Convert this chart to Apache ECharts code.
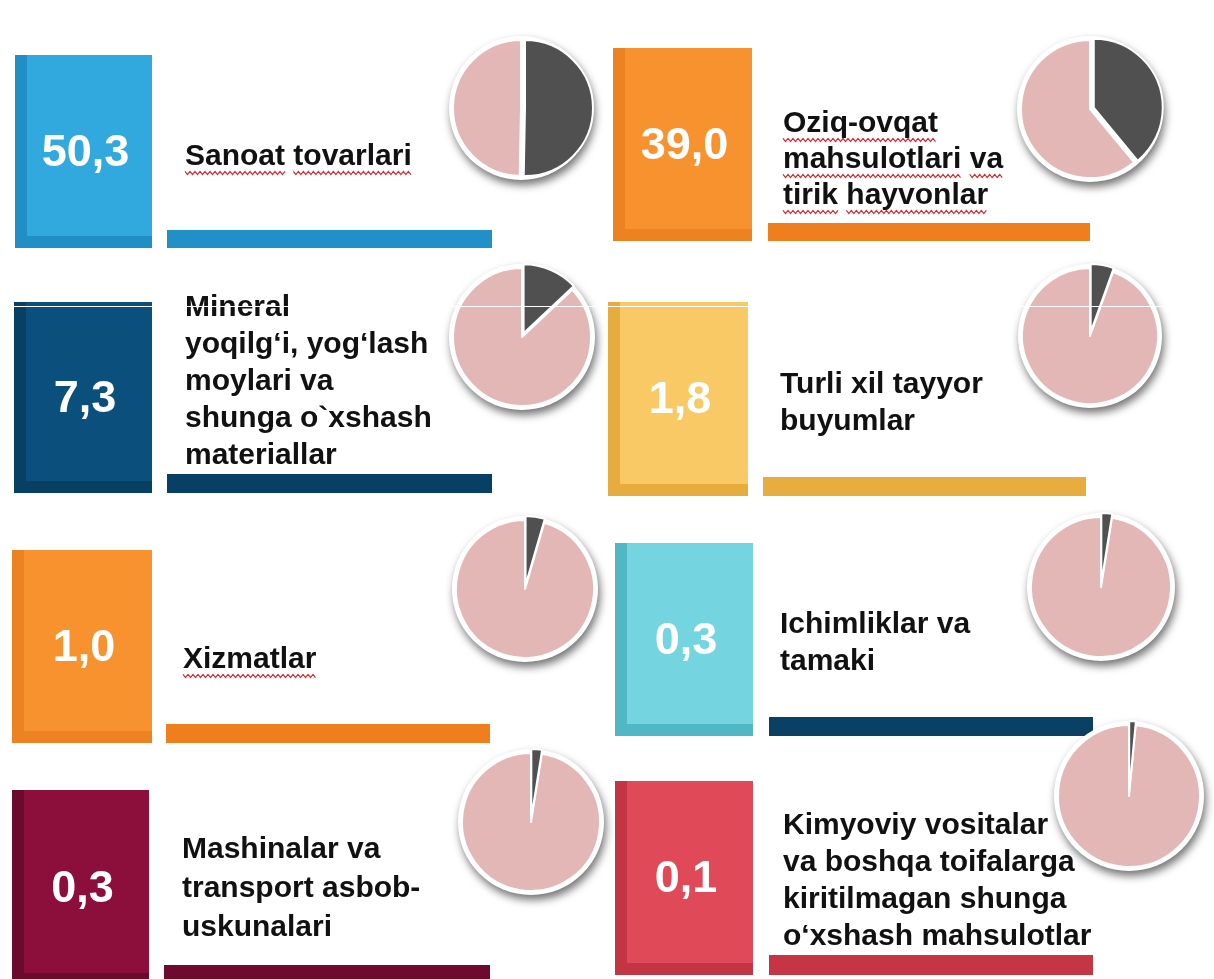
<!DOCTYPE html>
<html>
<head>
<meta charset="utf-8">
<script src="https://cdn.jsdelivr.net/npm/echarts@6.0.0/dist/echarts.min.js"></script>
<style>
  html, body { margin: 0; padding: 0; background: #fff; }
  #chart { width: 1214px; height: 979px; }
</style>
</head>
<body>
<div id="chart"></div>
<script>
// categories (export structure), share in percent
const categories = [
  'Sanoat tovarlari',
  'Oziq-ovqat\nmahsulotlari va\ntirik hayvonlar',
  'Mineral\nyoqilg‘i, yog‘lash\nmoylari va\nshunga o`xshash\nmateriallar',
  'Turli xil tayyor\nbuyumlar',
  'Xizmatlar',
  'Ichimliklar va\ntamaki',
  'Mashinalar va\ntransport asbob-\nuskunalari',
  'Kimyoviy vositalar\nva boshqa toifalarga\nkiritilmagan shunga\no‘xshash mahsulotlar'
]
const values = [50.3, 39.0, 7.3, 1.8, 1.0, 0.3, 0.3, 0.1]
// dark slice of each small pie, as it is drawn in the picture
const pieShare = [50.3, 39.0, 13, 5.5, 4.5, 2.5, 2.5, 1.5]

// panel colours: box face, box edge, underline bar
const boxColors = ['#31a9de', '#f7922e', '#0b4f7c', '#f8c964', '#f7922e', '#74d4e0', '#8b0f3a', '#e04a58']
const edgeColors = ['#1f8fc6', '#ec8220', '#083f65', '#e6ad3e', '#ec8222', '#50b8c5', '#6c0a2d', '#c33444']
const barColors = ['#2290c8', '#ee7f1c', '#083f64', '#e7ae3f', '#ee7f1c', '#0a4066', '#6e0a2e', '#c53544']

// layout (px): box [x, y, w, h], bar [x, y, w, h], text [x, centerY, lineHeight], pie [cx, cy, r]
const boxes = [
  [15, 55, 137, 193], [613, 48, 139, 193],
  [14, 302, 138, 191], [608, 302, 140, 194],
  [12, 550, 140, 193], [615, 543, 138, 193],
  [12, 790, 137, 195], [615, 781, 138, 194]
]
const bars = [
  [167, 230, 325, 18], [768, 223, 322, 18],
  [167, 474, 325, 19], [763, 477, 323, 19],
  [166, 724, 324, 19], [769, 717, 324, 19],
  [164, 965, 326, 20], [769, 955, 324, 20]
]
const texts = [
  [185, 157, 36], [783, 160, 36],
  [185, 382, 37], [780, 403, 37],
  [183, 660, 37], [780, 643, 37],
  [182, 889, 39], [783, 881, 37]
]
const pies = [
  [521, 108, 68], [1090, 109, 69],
  [522, 337, 69], [1090, 336, 68],
  [525, 589, 69], [1101, 587, 70],
  [531, 822, 69], [1129, 796, 71]
]
// panels whose label carries the red spell-check squiggle
const spellMarked = [0, 1, 4]

const fmt = v => v.toFixed(1).replace('.', ',')
const labelFont = 'bold 30px "Liberation Sans", Arial, sans-serif'
const measure = document.createElement('canvas').getContext('2d')
measure.font = labelFont

let graphic = []
let series = []

function squiggle (x0, x1, y) {
  let pts = []
  let up = true
  for (let x = x0; x <= x1; x += 2.5) {
    pts.push([x, up ? y - 1.6 : y + 1.6])
    up = !up
  }
  graphic.push({
    type: 'polyline', shape: { points: pts },
    style: { stroke: '#d9262f', lineWidth: 1.2, fill: null }, silent: true
  })
}

categories.forEach((name, i) => {
  const [bx, by, bw, bh] = boxes[i]
  const edge = 12
  graphic.push({
    type: 'rect', shape: { x: bx, y: by, width: bw, height: bh },
    style: { fill: edgeColors[i] }, silent: true
  })
  graphic.push({
    type: 'rect', shape: { x: bx + edge, y: by, width: bw - edge, height: bh - edge },
    style: { fill: boxColors[i] }, silent: true
  })
  graphic.push({
    type: 'text', x: bx + bw / 2 + 2, y: by + bh / 2 + 2,
    style: {
      text: fmt(values[i]), fill: '#fff', font: 'bold 45px "Liberation Sans", Arial, sans-serif',
      textAlign: 'center', textVerticalAlign: 'middle'
    },
    silent: true
  })
  const [rx, ry, rw, rh] = bars[i]
  graphic.push({
    type: 'rect', shape: { x: rx, y: ry, width: rw, height: rh },
    style: { fill: barColors[i] }, silent: true
  })
  const [tx, ty, lh] = texts[i]
  graphic.push({
    type: 'text', x: tx, y: ty,
    style: {
      text: name, fill: '#111', font: labelFont,
      lineHeight: lh, textAlign: 'left', textVerticalAlign: 'middle'
    },
    silent: true
  })
  if (spellMarked.indexOf(i) >= 0) {
    const lines = name.split('\n')
    const top = ty - lines.length * lh / 2
    lines.forEach((line, k) => {
      const y = top + k * lh + lh / 2 + 16
      let x = tx
      line.split(' ').forEach(word => {
        const w = measure.measureText(word).width
        squiggle(x, x + w, y)
        x += w + measure.measureText(' ').width
      })
    })
  }
  const [cx, cy, r] = pies[i]
  // white disc with drop shadow behind each pie
  graphic.push({
    type: 'circle', shape: { cx: cx, cy: cy, r: r + 4 },
    style: {
      fill: '#fff', shadowBlur: 9, shadowOffsetX: 2, shadowOffsetY: 5,
      shadowColor: 'rgba(0,0,0,0.55)'
    },
    silent: true
  })
  series.push({
    type: 'pie',
    center: [cx, cy],
    radius: [0, r],
    startAngle: 90,
    clockwise: true,
    silent: true,
    selectedMode: 'single',
    selectedOffset: 4,
    animation: false,
    label: { show: false },
    labelLine: { show: false },
    itemStyle: { borderColor: '#fff', borderWidth: 2 },
    data: [
      { value: pieShare[i], selected: true, itemStyle: { color: '#505050' } },
      { value: 100 - pieShare[i], itemStyle: { color: '#e4b7b7' } }
    ]
  })
})

// thin white scan line across the second row
graphic.push({
  type: 'rect', z: 100, shape: { x: 0, y: 306, width: 1214, height: 1 },
  style: { fill: '#fff' }, silent: true
})

let myChart = echarts.init(document.getElementById('chart'))
myChart.setOption({
  backgroundColor: '#fff',
  animation: false,
  graphic: graphic,
  series: series
})
</script>
</body>
</html>
